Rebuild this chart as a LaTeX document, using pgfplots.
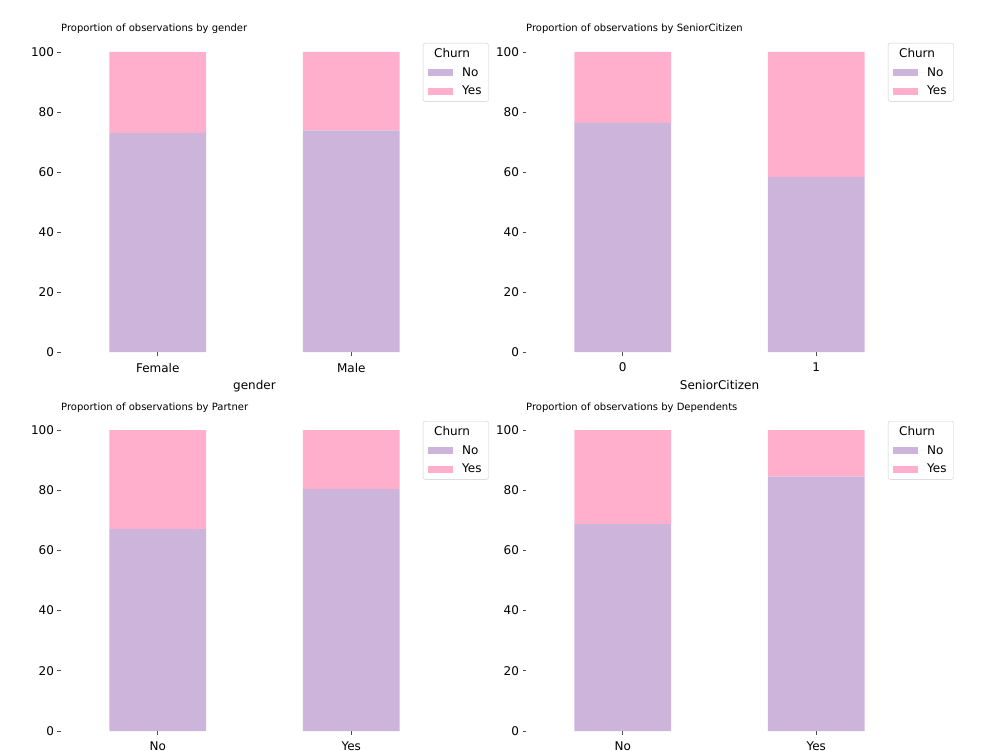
\documentclass[border=0pt]{standalone}
\usepackage{fontspec}
\setmainfont{DejaVu Sans}
\usepackage{pgfplots}
\usepackage{pgfplotstable}
\pgfplotsset{compat=1.18}

\definecolor{churnNo}{HTML}{CDB4DB}
\definecolor{churnYes}{HTML}{FFAFCC}

% share of customers (percent) per category
\pgfplotstableread{
x no yes
0 73.08 26.92
1 73.84 26.16
}\gender
\pgfplotstableread{
x no yes
0 76.39 23.61
1 58.32 41.68
}\senior
\pgfplotstableread{
x no yes
0 67.04 32.96
1 80.34 19.66
}\partner
\pgfplotstableread{
x no yes
0 68.72 31.28
1 84.55 15.45
}\dependents

\pgfplotsset{
  churnbar/.style={
    ybar stacked, bar width=0.5,
    scale only axis, width=387pt, height=315pt,
    xmin=-0.5, xmax=1.5, ymin=0, ymax=105,
    xtick={0,1}, ytick={0,20,40,60,80,100},
    axis line style={draw=none},
    tick align=outside, tick pos=left,
    major tick length=3.5pt,
    tick style={black!70, line width=0.8pt},
    ticklabel style={font=\fontsize{12}{14}\selectfont},
    xticklabel style={yshift=-4pt},
    /pgf/number format/assume math mode=true,
    xlabel style={font=\fontsize{12}{14}\selectfont, yshift=-1pt},
    title style={at={(0,1)}, anchor=base west, inner sep=0pt, yshift=-1pt,
      font=\fontsize{10}{12}\selectfont},
    legend style={font=\fontsize{12}{14}\selectfont, draw=black!20,
      rounded corners=2pt, fill=white, fill opacity=0.8, text opacity=1,
      at={(1.1,1)}, anchor=north east, xshift=2pt, yshift=-6pt,
      row sep=4.5pt, inner xsep=5pt, inner ysep=3pt},
    legend cell align=left,
    legend image code/.code={%
      \fill[##1, sharp corners, fill opacity=1] (0pt,-3.5pt) rectangle (25pt,3.5pt);
      \path (25pt,0pt) -- (32pt,0pt);},
  },
  lowrow/.style={height=316pt, xlabel style={yshift=-20pt}},
}

\begin{document}
\begin{tikzpicture}
\useasboundingbox (0,0) rectangle (1000pt,-751pt);
\clip (0,0) rectangle (1000pt,-751pt);

\begin{axis}[churnbar, at={(61pt,-352pt)}, anchor=south west,
  xticklabels={Female,Male}, xlabel={gender},
  title={Proportion of observations by gender}]
  \addlegendimage{empty legend}\addlegendentry{\hspace*{-28pt}Churn}
  \addplot[fill=churnNo, draw=none] table[x=x, y=no] {\gender};
  \addlegendentry{No}
  \addplot[fill=churnYes, draw=none] table[x=x, y=yes] {\gender};
  \addlegendentry{Yes}
\end{axis}

\begin{axis}[churnbar, at={(526pt,-352pt)}, anchor=south west,
  xticklabels={0,1}, xlabel={SeniorCitizen},
  title={Proportion of observations by SeniorCitizen}]
  \addlegendimage{empty legend}\addlegendentry{\hspace*{-28pt}Churn}
  \addplot[fill=churnNo, draw=none] table[x=x, y=no] {\senior};
  \addlegendentry{No}
  \addplot[fill=churnYes, draw=none] table[x=x, y=yes] {\senior};
  \addlegendentry{Yes}
\end{axis}

\begin{axis}[churnbar, lowrow, at={(61pt,-731pt)}, anchor=south west,
  xticklabels={No,Yes}, xlabel={Partner},
  title={Proportion of observations by Partner}]
  \addlegendimage{empty legend}\addlegendentry{\hspace*{-28pt}Churn}
  \addplot[fill=churnNo, draw=none] table[x=x, y=no] {\partner};
  \addlegendentry{No}
  \addplot[fill=churnYes, draw=none] table[x=x, y=yes] {\partner};
  \addlegendentry{Yes}
\end{axis}

\begin{axis}[churnbar, lowrow, at={(526pt,-731pt)}, anchor=south west,
  xticklabels={No,Yes}, xlabel={Dependents},
  title={Proportion of observations by Dependents}]
  \addlegendimage{empty legend}\addlegendentry{\hspace*{-28pt}Churn}
  \addplot[fill=churnNo, draw=none] table[x=x, y=no] {\dependents};
  \addlegendentry{No}
  \addplot[fill=churnYes, draw=none] table[x=x, y=yes] {\dependents};
  \addlegendentry{Yes}
\end{axis}
\end{tikzpicture}
\end{document}
